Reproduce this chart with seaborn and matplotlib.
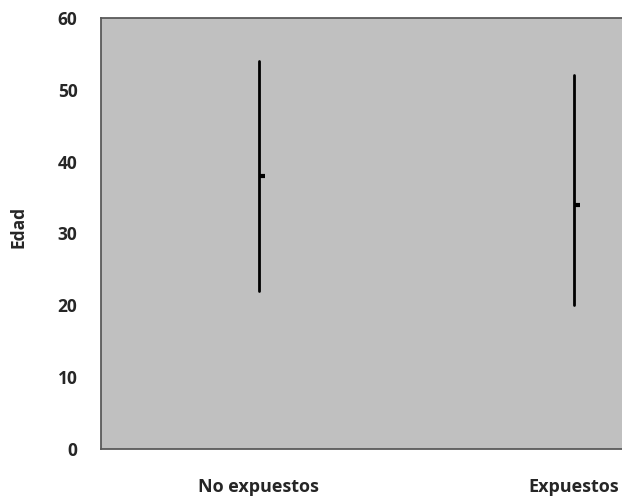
import matplotlib
matplotlib.use("Agg")
import matplotlib.pyplot as plt
import seaborn as sns
import pandas as pd

categories = ["No expuestos", "Expuestos"]
low = [22, 20]
high = [54, 52]
close = [38, 34]
yticks = [0, 10, 20, 30, 40, 50, 60]

sns.set_style("white")
plt.rcParams["font.family"] = ["Open Sans", "DejaVu Sans"]

W, H = 622, 497
fig = plt.figure(figsize=(W / 100, H / 100), dpi=100)
ax = fig.add_axes([101 / W, (H - 449) / H, 630 / W, 431 / H])
ax.set_facecolor("#C0C0C0")

pos = list(range(len(categories)))
rng = pd.DataFrame({
    "x": pos + pos,
    "y": low + high,
    "cat": categories + categories,
})
sns.lineplot(data=rng, x="x", y="y", units="cat", estimator=None,
             color="black", linewidth=2.0, ax=ax, legend=False, sort=False)

cl = pd.DataFrame({"x": pos, "y": close})
sns.scatterplot(data=cl, x="x", y="y", marker=1, s=18, color="black",
                edgecolor="black", linewidth=3.0, ax=ax, legend=False)

FS = 12.5
ax.set_xlim(-0.5, len(categories) - 0.5)
ax.set_ylim(0, 60)
ax.set_yticks(yticks)
ax.set_yticklabels([str(t) for t in yticks], fontsize=FS, fontweight="bold")
ax.set_xticks(pos)
ax.set_xticklabels(categories, fontsize=13, fontweight="bold")
ax.tick_params(axis="y", length=0, pad=17)
ax.tick_params(axis="x", length=0, pad=21)
ax.set_xlabel("")
ax.set_ylabel("Edad", fontsize=FS, fontweight="bold")
ax.yaxis.set_label_coords(-0.116, 0.515)
for s in ax.spines.values():
    s.set_color("#5a5a5a")
    s.set_linewidth(1.3)
ax.grid(False)

fig.savefig("out.png", dpi=100)
